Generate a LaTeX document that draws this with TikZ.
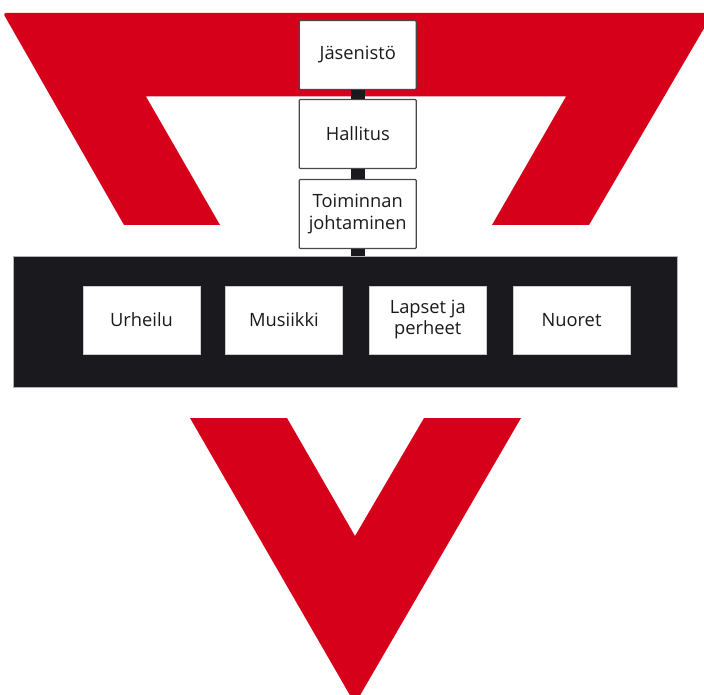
\documentclass[tikz,border=0pt]{standalone}
\usepackage{xcolor}
\usepackage{fontspec}
\setmainfont{Open Sans}
\definecolor{ymcared}{HTML}{D7001A}
\definecolor{bandblack}{HTML}{1A1A1E}
\tikzset{
	topbox/.style={draw=bandblack!80,line width=1.2pt,fill=white,rounded corners=1pt,minimum width=117pt,minimum height=69pt,inner sep=0pt,align=center,text=bandblack,font=\fontsize{18.3}{22}\selectfont},
	unitbox/.style={fill=white,draw=gray!40,line width=0.4pt,minimum width=117pt,minimum height=68pt,inner sep=0pt,align=center,text=bandblack,font=\fontsize{18.3}{21}\selectfont},
	link/.style={draw=bandblack,line width=14pt}
}
\begin{document}
\begin{tikzpicture}[x=1pt,y=-1pt]
		\useasboundingbox (0,0) rectangle (704,695);
		\clip (0,0) rectangle (704,695);
		
		% red triangle, upper part
		\fill[ymcared]
		(124,225) [rounded corners=3pt] -- (3,13) [sharp corners] -- (713,13) -- (589,225) -- (492,225) -- (566,96.5) -- (146,96.5) -- (220,225) -- cycle;
		\fill[ymcared]
		(190,418) -- (287,418) -- (355,536) -- (424,418) -- (521,418) -- (355,704) -- cycle;
		
		\node[draw=gray!60,fill=bandblack,line width=0.4pt,minimum width=664pt,minimum height=131pt,inner sep=0pt] (band) at (345,321.5) {};
		
		\node[topbox] (jasenisto) at (357.75,55) {Jäsenistö};
		\node[topbox] (hallitus) at (357.75,134) {Hallitus};
		\node[topbox] (johtaminen) at (357.75,214) {Toiminnan\\johtaminen};
		
		\draw[link] (jasenisto) -- (hallitus);
		\draw[link] (hallitus) -- (johtaminen);
		\draw[link] (johtaminen.south) -- (johtaminen.south |- band.north);
		
		\foreach \name/\x/\txt in {urheilu/141.5/Urheilu,musiikki/284/Musiikki,lapset/427.75/{Lapset ja\\perheet},nuoret/571.5/Nuoret}
		\node[unitbox] (\name) at (\x,319.75) {\txt};
	\end{tikzpicture}
\end{document}
